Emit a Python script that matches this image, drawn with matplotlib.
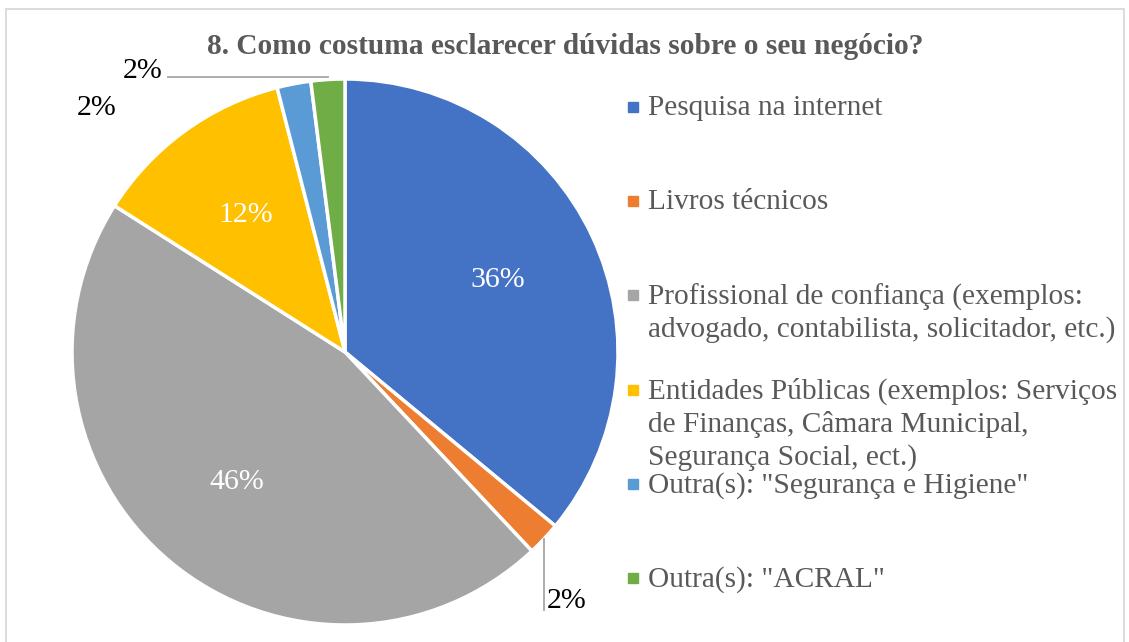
import numpy as np
import matplotlib.pyplot as plt
from matplotlib.patches import Rectangle

plt.rcParams['font.family'] = ['Liberation Serif', 'DejaVu Serif']

title = "8. Como costuma esclarecer dúvidas sobre o seu negócio?"
labels = [
    "Pesquisa na internet",
    "Livros técnicos",
    "Profissional de confiança (exemplos:\nadvogado, contabilista, solicitador, etc.)",
    "Entidades Públicas (exemplos: Serviços\nde Finanças, Câmara Municipal,\nSegurança Social, ect.)",
    'Outra(s): "Segurança e Higiene"',
    'Outra(s): "ACRAL"',
]
values = [36, 2, 46, 12, 2, 2]
colors = ['#4472C4', '#ED7D31', '#A5A5A5', '#FFC000', '#5B9BD5', '#70AD47']

W, H = 1129, 642
fig = plt.figure(figsize=(W / 100, H / 100), dpi=100)

# pie centre / radius in pixels
cx, cy, r = 345, 352, 273
ax = fig.add_axes([(cx - r) / W, (H - cy - r) / H, 2 * r / W, 2 * r / H])

wedges, texts, autotexts = ax.pie(
    values, colors=colors, startangle=90, counterclock=False,
    autopct='%d%%', pctdistance=0.62, radius=1.0,
    wedgeprops=dict(edgecolor='white', linewidth=2.5),
    textprops=dict(fontsize=21.5))
ax.set_xlim(-1, 1)
ax.set_ylim(-1, 1)
ax.set_aspect('equal')
ax.axis('off')

for i, t in enumerate(autotexts):
    t.set_text(f"{values[i]}%")
    t.set_color('white' if values[i] > 5 else 'black')

# small slices: labels outside with leader lines
def mid(i):
    w = wedges[i]
    a = np.deg2rad((w.theta1 + w.theta2) / 2)
    return np.cos(a), np.sin(a)

# orange
mx, my = mid(1)
ax.plot([mx, mx], [my, -0.945], color='#A6A6A6', lw=1.3, clip_on=False)
autotexts[1].set_position((mx + 0.01, -0.912))
autotexts[1].set_ha('left')
# light blue
autotexts[4].set_position((-0.908, 0.895))
# green
mx, my = mid(5)
ax.plot([mx, -0.648], [my + 0.01, my + 0.01], color='#A6A6A6', lw=1.3, clip_on=False)
autotexts[5].set_position((-0.74, 1.028))

fig.text(565 / W, 1 - 46 / H, title, ha='center', va='center',
         fontsize=21.2, fontweight='bold', color='#595959')

# legend entries
y0, step = 107, 94.2
for i, lab in enumerate(labels):
    y = y0 + i * step
    fig.patches.append(Rectangle(((633 - 5) / W, 1 - (y + 5) / H), 10 / W, 10 / H,
                                 transform=fig.transFigure, color=colors[i]))
    fig.text(648 / W, 1 - (y - 12) / H, lab, ha='left', va='top',
             fontsize=21.2, color='#595959', linespacing=1.28)

# chart area border (bottom edge runs off the image)
fig.patches.append(Rectangle((6 / W, -4 / H), 1118 / W, (H - 9 + 4) / H,
                             transform=fig.transFigure, fill=False,
                             edgecolor='#D9D9D9', lw=1.3))

fig.savefig('out.png', dpi=100)
